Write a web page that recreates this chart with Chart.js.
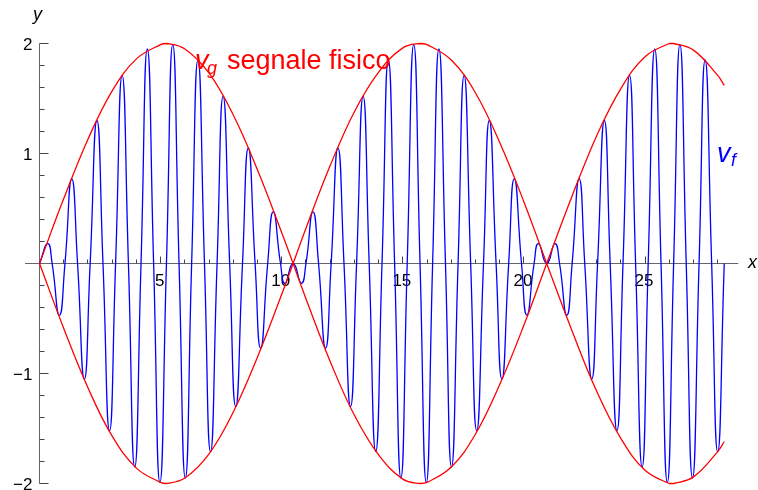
<!DOCTYPE html>
<html>
<head>
<meta charset="utf-8">
<script src="https://cdn.jsdelivr.net/npm/chart.js@4"></script>
<style>
  html, body { margin: 0; padding: 0; background: #ffffff; }
  #wrap { width: 758px; height: 490px; }
</style>
</head>
<body>
<div id="wrap"><canvas id="c" width="758" height="490"></canvas></div>
<script>
// ---- data ----
const redX = [0, 1, 2, 3, 4, 5, 5.24, 6, 7, 8, 9, 10, 10.47, 11, 12, 13, 14, 15, 15.71, 16, 17, 18, 19, 20, 20.94, 22, 23, 24, 25, 26, 26.18, 27, 28, 28.27];
const redUpperY = [0, 0.59, 1.13, 1.57, 1.86, 1.99, 2.00, 1.95, 1.73, 1.35, 0.85, 0.28, 0, -0.32, -0.89, -1.38, -1.74, -1.96, -2.00, -1.99, -1.85, -1.55, -1.10, -0.56, 0, 0.62, 1.16, 1.59, 1.88, 2.00, 2.00, 1.94, 1.71, 1.62];
const redLowerY = [0, -0.59, -1.13, -1.57, -1.86, -1.99, -2.00, -1.95, -1.73, -1.35, -0.85, -0.28, 0, 0.32, 0.89, 1.38, 1.74, 1.96, 2.00, 1.99, 1.85, 1.55, 1.10, 0.56, 0, -0.62, -1.16, -1.59, -1.88, -2.00, -2.00, -1.94, -1.71, -1.62];

const blueX = [0, 0.34, 0.52, 0.82, 1.05, 1.33, 1.57, 1.85, 2.09, 2.37, 2.62, 2.89, 3.14, 3.41, 3.67, 3.93, 4.19, 4.45, 4.71, 4.97,
  5.24, 5.50, 5.76, 6.02, 6.28, 6.54, 6.81, 7.06, 7.33, 7.58, 7.85, 8.10, 8.38, 8.62, 8.90, 9.13, 9.42, 9.65, 9.95, 10.13,
  10.47, 10.81, 11.00, 11.29, 11.52, 11.81, 12.04, 12.32, 12.57, 12.84, 13.09, 13.36, 13.61, 13.88, 14.14, 14.40, 14.66, 14.92, 15.18, 15.45,
  15.71, 15.97, 16.23, 16.49, 16.76, 17.01, 17.28, 17.53, 17.80, 18.05, 18.33, 18.57, 18.85, 19.09, 19.37, 19.60, 19.90, 20.12, 20.42, 20.60,
  20.94, 21.28, 21.47, 21.77, 21.99, 22.28, 22.51, 22.80, 23.04, 23.32, 23.56, 23.84, 24.09, 24.36, 24.61, 24.88, 25.13, 25.40, 25.66, 25.92,
  26.18, 26.44, 26.70, 26.96, 27.23, 27.48, 27.75, 28.00, 28.27];
const blueY = [0, 0.18, 0, -0.47, 0, 0.77, 0, -1.05, 0, 1.30, 0, -1.52, 0, 1.71, 0, -1.85, 0, 1.95, 0, -1.99,
  0, 1.99, 0, -1.95, 0, 1.85, 0, -1.71, 0, 1.52, 0, -1.30, 0, 1.05, 0, -0.77, 0, 0.47, 0, -0.18,
  0, -0.18, 0, 0.47, 0, -0.77, 0, 1.05, 0, -1.30, 0, 1.52, 0, -1.71, 0, 1.85, 0, -1.95, 0, 1.99,
  0, -1.99, 0, 1.95, 0, -1.85, 0, 1.71, 0, -1.52, 0, 1.30, 0, -1.05, 0, 0.77, 0, -0.47, 0, 0.18,
  0, 0.18, 0, -0.47, 0, 0.77, 0, -1.05, 0, 1.30, 0, -1.52, 0, 1.71, 0, -1.85, 0, 1.95, 0, -1.99,
  0, 1.99, 0, -1.95, 0, 1.85, 0, -1.71, 0];

const xTickValues = [5, 10, 15, 20, 25];
const xTickLabels = ['5', '10', '15', '20', '25'];
const yTickValues = [-2, -1, 1, 2];
const yTickLabels = ['\u22122', '\u22121', '1', '2'];

const FONT = '"Liberation Sans", Arial, Helvetica, sans-serif';
const RED = '#ff0000';
const BLUE = '#0000ff';

const pts = (xs, ys) => xs.map((v, i) => ({ x: v, y: ys[i] }));

const axesPlugin = {
  id: 'mmaAxes',
  beforeDatasetsDraw(chart) {
    const { ctx, scales: { x, y } } = chart;
    const px0 = Math.round(x.getPixelForValue(0) - 0.5) + 0.5;
    const py0 = Math.round(y.getPixelForValue(0) - 0.5) + 0.5;
    ctx.save();
    ctx.lineWidth = 1;
    ctx.strokeStyle = '#666666';
    ctx.beginPath();
    ctx.moveTo(x.getPixelForValue(x.min), py0);
    ctx.lineTo(x.getPixelForValue(x.max), py0);
    ctx.stroke();
    ctx.beginPath();
    ctx.moveTo(px0, y.getPixelForValue(y.max));
    ctx.lineTo(px0, y.getPixelForValue(y.min));
    ctx.stroke();
    ctx.strokeStyle = '#444444';
    ctx.beginPath();
    for (let v = 1; v <= Math.floor(x.max); v++) {
      const p = Math.round(x.getPixelForValue(v) - 0.5) + 0.5;
      const len = (v % 5 === 0) ? 7 : 4;
      ctx.moveTo(p, py0);
      ctx.lineTo(p, py0 - len);
    }
    ctx.stroke();
    ctx.beginPath();
    for (let k = -10; k <= 10; k++) {
      if (k === 0) continue;
      const v = k / 5;
      const p = Math.round(y.getPixelForValue(v) - 0.5) + 0.5;
      const len = (k % 5 === 0) ? 9 : 5;
      ctx.moveTo(px0, p);
      ctx.lineTo(px0 + len, p);
    }
    ctx.stroke();
    ctx.fillStyle = '#000000';
    ctx.font = '17px ' + FONT;
    ctx.textAlign = 'center';
    ctx.textBaseline = 'alphabetic';
    xTickValues.forEach((v, i) => {
      ctx.fillText(xTickLabels[i], x.getPixelForValue(v) - 1, py0 + 22.5);
    });
    ctx.textAlign = 'right';
    yTickValues.forEach((v, i) => {
      ctx.fillText(yTickLabels[i], px0 - 7, y.getPixelForValue(v) + 6);
    });
    ctx.font = 'italic 18px ' + FONT;
    ctx.textAlign = 'left';
    ctx.fillText('y', 33, 20);
    ctx.fillText('x', 748, 268);
    ctx.restore();
  },
  afterDatasetsDraw(chart) {
    const { ctx } = chart;
    ctx.save();
    ctx.textBaseline = 'alphabetic';
    ctx.textAlign = 'left';
    ctx.fillStyle = RED;
    ctx.font = 'italic 27px ' + FONT;
    ctx.fillText('v', 195, 69);
    ctx.font = 'italic 18px ' + FONT;
    ctx.fillText('g', 207, 74);
    ctx.font = '27px ' + FONT;
    ctx.fillText('segnale fisico', 227, 69);
    ctx.fillStyle = BLUE;
    ctx.font = 'italic 27px ' + FONT;
    ctx.fillText('v', 717, 162);
    ctx.font = 'italic 18px ' + FONT;
    ctx.fillText('f', 731, 166);
    ctx.restore();
  }
};

new Chart(document.getElementById('c'), {
  type: 'scatter',
  data: {
    datasets: [
      { label: 'vg+', data: pts(redX, redUpperY), showLine: true, borderColor: RED, borderWidth: 1.3, pointRadius: 0, tension: 0.4, clip: false },
      { label: 'vg-', data: pts(redX, redLowerY), showLine: true, borderColor: RED, borderWidth: 1.3, pointRadius: 0, tension: 0.4, clip: false },
      { label: 'vf', data: pts(blueX, blueY), showLine: true, borderColor: BLUE, borderWidth: 1.3, pointRadius: 0, tension: 0.55, clip: false }
    ]
  },
  options: {
    responsive: false,
    animation: false,
    devicePixelRatio: 1,
    events: [],
    layout: { padding: { left: 25, right: 19.7, top: 43.5, bottom: 6.5 } },
    plugins: { legend: { display: false }, tooltip: { enabled: false } },
    scales: {
      x: { type: 'linear', min: -0.6, max: 28.85, display: false },
      y: { type: 'linear', min: -2, max: 2, display: false }
    }
  },
  plugins: [axesPlugin]
});
</script>
</body>
</html>
